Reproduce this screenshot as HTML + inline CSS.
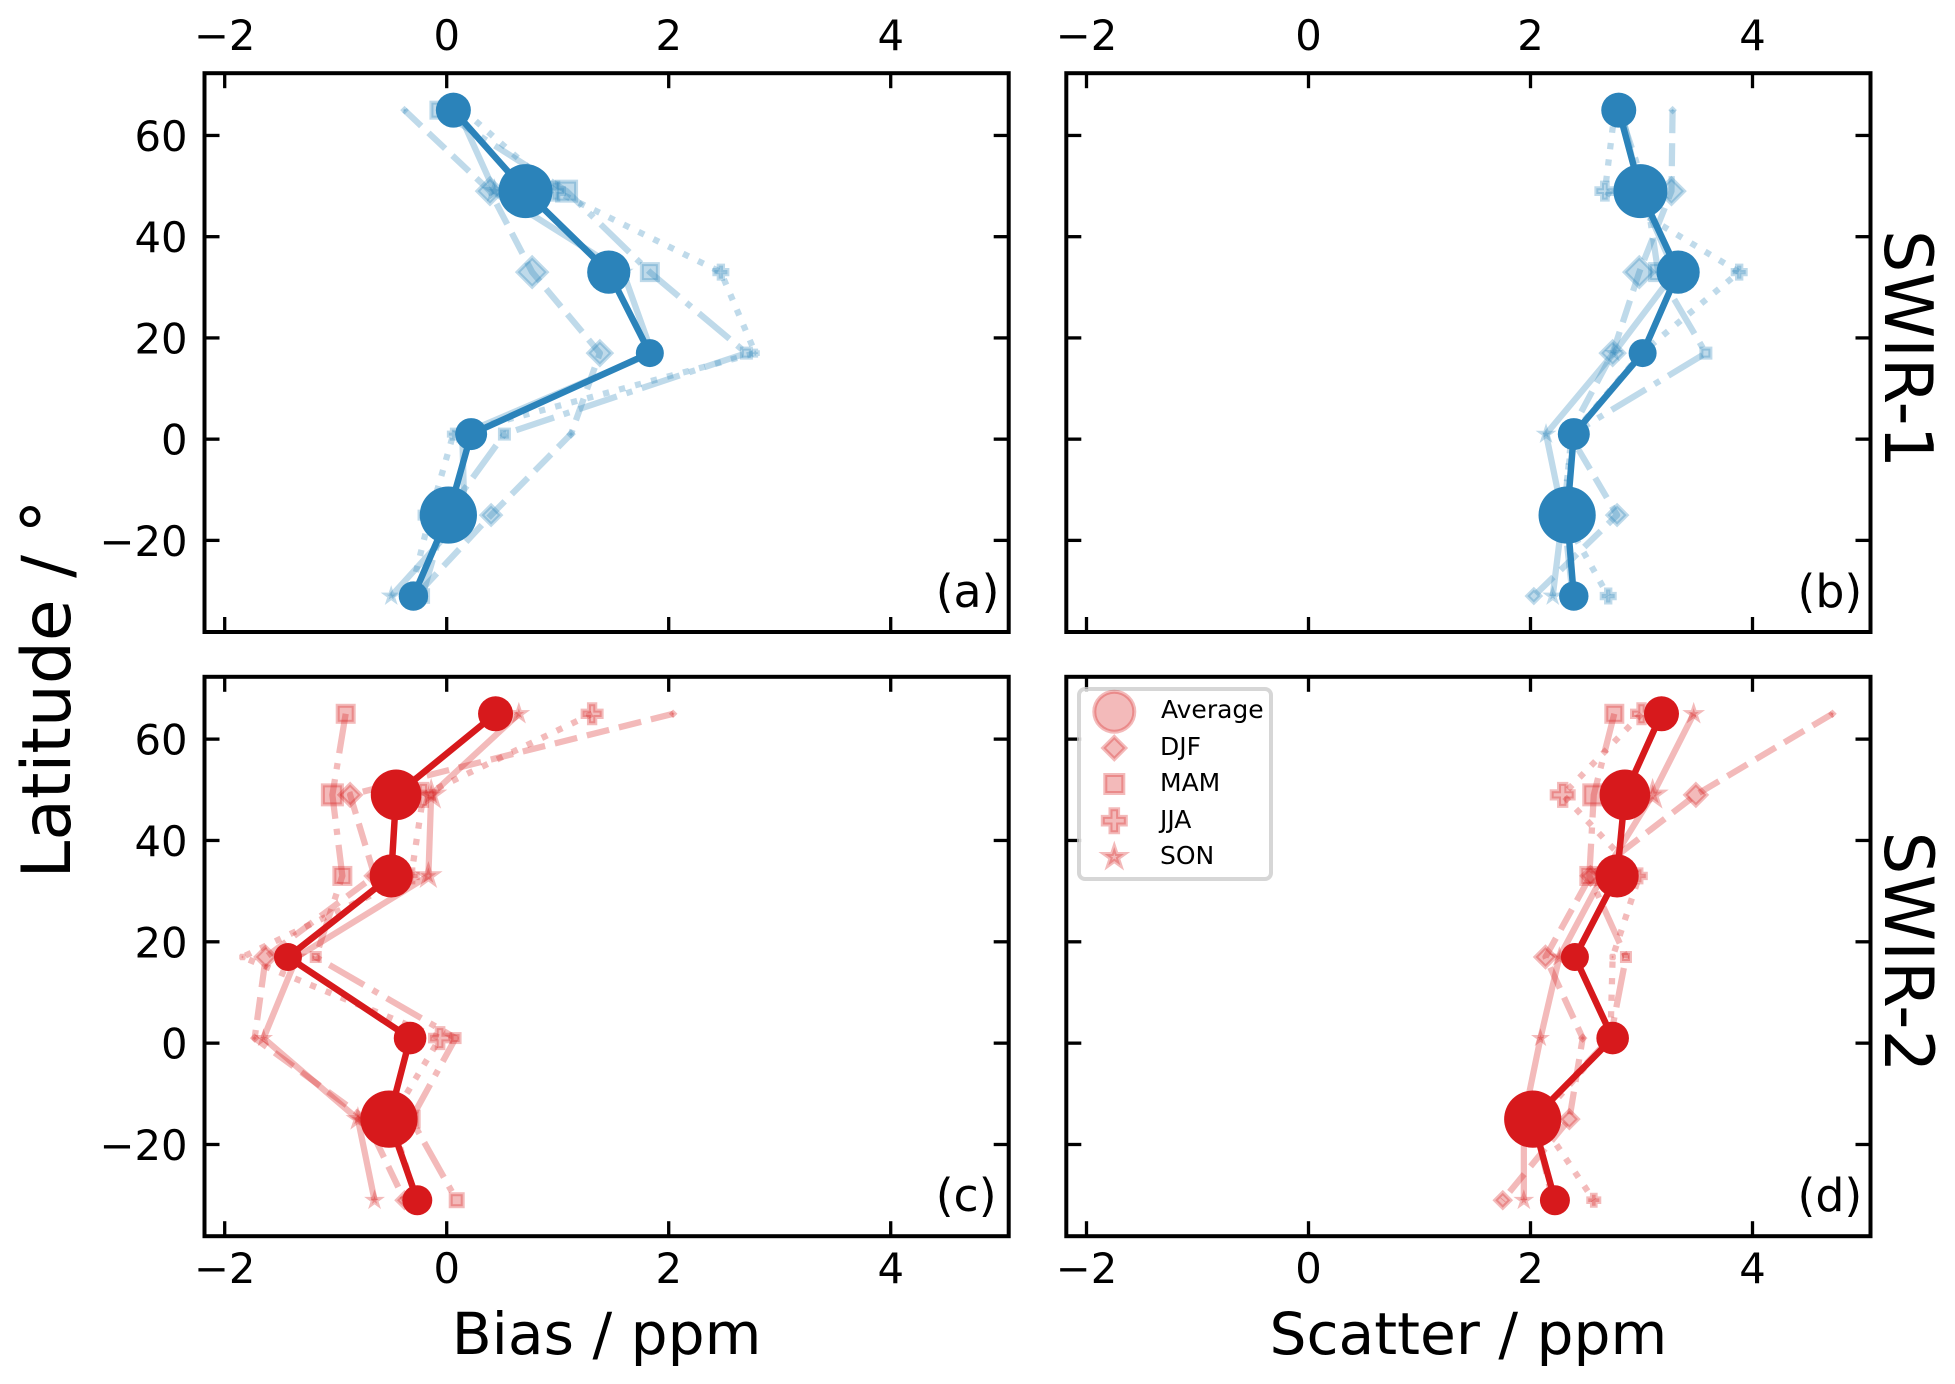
<!DOCTYPE html>
<html lang="en">
<head>
<meta charset="utf-8">
<title>Bias and scatter by latitude</title>
<style>
html,body{margin:0;padding:0;background:#fff;}
svg{display:block;}
text{font-family:"DejaVu Sans",sans-serif;fill:#000;}
</style>
</head>
<body>
<svg id="chart" xmlns="http://www.w3.org/2000/svg" width="1955" height="1384" viewBox="0 0 1955 1384">
  <rect x="0" y="0" width="1955" height="1384" fill="#ffffff"/>
  <g id="panels"></g>

  <text transform="translate(70,689) rotate(-90)" text-anchor="middle" font-size="67.8">Latitude / °</text>
  <text x="606.6" y="1354" text-anchor="middle" font-size="58.3">Bias / ppm</text>
  <text x="1468.4" y="1354" text-anchor="middle" font-size="58.3">Scatter / ppm</text>
  <text transform="translate(1885,349) rotate(90)" text-anchor="middle" font-size="66.7">SWIR-1</text>
  <text transform="translate(1885,952) rotate(90)" text-anchor="middle" font-size="67.5">SWIR-2</text>

  <g>
    <rect x="1079" y="689" width="192" height="190" rx="6" ry="6" fill="#ffffff" fill-opacity="0.8" stroke="#cccccc" stroke-opacity="0.8" stroke-width="4"/>
    <g>
      <circle cx="1114.3" cy="711.7" r="20" fill="#d7191c" fill-opacity="0.3" stroke="#d7191c" stroke-opacity="0.3" stroke-width="4"/>
      <text x="1161" y="718" font-size="25">Average</text>
    </g>
    <g>
      <polygon points="1114.3,737 1125.3,748 1114.3,759 1103.3,748" fill="#d7191c" fill-opacity="0.3" stroke="#d7191c" stroke-opacity="0.3" stroke-width="4"/>
      <text x="1160" y="755" font-size="25">DJF</text>
    </g>
    <g>
      <rect x="1105.3" y="775" width="18" height="18" fill="#d7191c" fill-opacity="0.3" stroke="#d7191c" stroke-opacity="0.3" stroke-width="4"/>
      <text x="1160" y="791" font-size="25">MAM</text>
    </g>
    <g>
      <polygon points="1110.5,809.2 1118.1,809.2 1118.1,816.9 1125.8,816.9 1125.8,824.5 1118.1,824.5 1118.1,832.2 1110.5,832.2 1110.5,824.5 1102.8,824.5 1102.8,816.9 1110.5,816.9" fill="#d7191c" fill-opacity="0.3" stroke="#d7191c" stroke-opacity="0.3" stroke-width="4"/>
      <text x="1160" y="828" font-size="25">JJA</text>
    </g>
    <g>
      <polygon points="1114.3,847 1116.6,854 1124,854 1118,858.3 1120.3,865.3 1114.3,861 1108.3,865.3 1110.6,858.3 1104.6,854 1112,854" fill="#d7191c" fill-opacity="0.3" stroke="#d7191c" stroke-opacity="0.3" stroke-width="4"/>
      <text x="1160" y="864" font-size="25">SON</text>
    </g>
  </g>
</svg>
<script>
// Shared axes
const latitudes = [65, 49, 33, 17, 1, -15, -31];
const xTickValues = [-2, 0, 2, 4];
const yTickValues = [60, 40, 20, 0, -20];

// Panel (a): SWIR-1 bias
const biasSwir1Average = [0.06, 0.71, 1.46, 1.83, 0.22, 0.015, -0.30];
const biasSwir1Djf = [-0.38, 0.39, 0.77, 1.38, 1.12, 0.40, -0.28];
const biasSwir1Mam = [-0.07, 1.08, 1.83, 2.70, 0.52, -0.01, -0.22];
const biasSwir1Jja = [0.15, 0.98, 2.47, 2.78, 0.06, -0.15, -0.33];
const biasSwir1Son = [0.10, 0.43, 1.59, 1.85, 0.14, 0.16, -0.50];

// Panel (b): SWIR-1 scatter
const scatterSwir1Average = [2.795, 2.99, 3.33, 3.01, 2.39, 2.33, 2.39];
const scatterSwir1Djf = [3.28, 3.27, 2.98, 2.74, 2.35, 2.78, 2.03];
const scatterSwir1Mam = [2.80, 3.04, 3.15, 3.58, 2.37, 2.30, 2.38];
const scatterSwir1Jja = [2.76, 2.67, 3.88, 3.00, 2.38, 2.29, 2.70];
const scatterSwir1Son = [2.82, 2.98, 3.30, 2.75, 2.14, 2.29, 2.20];

// Panel (c): SWIR-2 bias
const biasSwir2Average = [0.44, -0.456, -0.50, -1.43, -0.33, -0.52, -0.265];
const biasSwir2Djf = [2.04, -0.87, -0.65, -1.63, -1.73, -0.73, -0.38];
const biasSwir2Mam = [-0.91, -1.03, -0.94, -1.18, 0.08, -0.32, 0.09];
const biasSwir2Jja = [1.31, -0.21, -0.32, -1.84, -0.06, -0.50, -0.27];
const biasSwir2Son = [0.65, -0.14, -0.165, -1.35, -1.65, -0.80, -0.65];

// Panel (d): SWIR-2 scatter
const scatterSwir2Average = [3.18, 2.85, 2.78, 2.40, 2.74, 2.02, 2.22];
const scatterSwir2Djf = [4.72, 3.49, 2.54, 2.135, 2.47, 2.35, 1.75];
const scatterSwir2Mam = [2.755, 2.57, 2.53, 2.86, 2.72, 2.03, 2.20];
const scatterSwir2Jja = [3.00, 2.29, 2.98, 2.74, 2.72, 2.08, 2.57];
const scatterSwir2Son = [3.47, 3.10, 2.65, 2.26, 2.09, 1.94, 1.94];

// Sampling weight per latitude band (sets marker area in the original figure)
const swir1WeightAverage = [17.5, 27, 21.6, 14, 16, 28.6, 14.7];
const swir1WeightDjf = [3, 14, 16, 13, 3.5, 11, 8];
const swir1WeightMam = [9, 11, 9.5, 6, 6, 9, 7.3];
const swir1WeightJja = [5, 10, 8, 4, 6, 12, 8];
const swir1WeightSon = [5, 8, 6, 5, 6, 6, 6];
const swir2WeightAverage = [17.5, 25.3, 21.6, 14, 16.3, 28.6, 15];
const swir2WeightDjf = [3, 12, 10, 11.4, 3.5, 10, 9];
const swir2WeightMam = [9.5, 11, 9.5, 5.5, 5.5, 9, 7.5];
const swir2WeightJja = [11, 12.5, 8, 2.5, 11.5, 8, 7];
const swir2WeightSon = [7, 12, 10, 6, 5, 8, 6];

const SVGNS = 'http://www.w3.org/2000/svg';
const xMin = -2.182, xMax = 5.063, yMin = -38.1, yMax = 72.3;
const BLUE = '#2b83ba', RED = '#d7191c';

function mk(tag, attrs, parent) {
  const node = document.createElementNS(SVGNS, tag);
  for (const k in attrs) node.setAttribute(k, attrs[k]);
  parent.appendChild(node);
  return node;
}

function xAxis(box) {
  return function (v) { return box.x + (v - xMin) / (xMax - xMin) * box.w; };
}
function yAxis(box) {
  return function (v) { return box.y + (yMax - v) / (yMax - yMin) * box.h; };
}
function fmt(v) {
  return v < 0 ? '\u2212' + Math.abs(v) : String(v);
}
function averageRadius(weight) { return weight; }
function seasonRadius(weight) { return Math.max(1.2, weight - 1.5); }

function markerNode(shape, cx, cy, r, attrs, parent) {
  if (shape === 'square') {
    return mk('rect', Object.assign({ x: cx - r, y: cy - r, width: 2 * r, height: 2 * r }, attrs), parent);
  }
  let pts = [];
  if (shape === 'diamond') {
    pts = [[0, -r], [r, 0], [0, r], [-r, 0]];
  } else if (shape === 'plus') {
    const a = r / 3;
    pts = [[-a, -r], [a, -r], [a, -a], [r, -a], [r, a], [a, a], [a, r], [-a, r], [-a, a], [-r, a], [-r, -a], [-a, -a]];
  } else {
    for (let i = 0; i < 10; i++) {
      const rad = i % 2 ? r * 0.382 : r;
      const ang = -Math.PI / 2 + i * Math.PI / 5;
      pts.push([rad * Math.cos(ang), rad * Math.sin(ang)]);
    }
  }
  const text = pts.map(function (p) { return (cx + p[0]).toFixed(2) + ',' + (cy + p[1]).toFixed(2); }).join(' ');
  return mk('polygon', Object.assign({ points: text }, attrs), parent);
}

function drawSeason(parent, panelId, season, values, weights, shape, dash, color, px, py) {
  const group = mk('g', {}, parent);
  
  
  const pts = values.map(function (v, i) { return px(v).toFixed(2) + ',' + py(latitudes[i]).toFixed(2); }).join(' ');
  const attrs = { points: pts, fill: 'none', stroke: color, 'stroke-opacity': 0.3, 'stroke-width': 6.25, 'stroke-linejoin': 'round' };
  if (dash) attrs['stroke-dasharray'] = dash;
  const line = mk('polyline', attrs, group);
  
  
  values.forEach(function (v, i) {
    const style = { fill: color, 'fill-opacity': 0.3, stroke: color, 'stroke-opacity': 0.3, 'stroke-width': 4 };
    const node = markerNode(shape, px(v), py(latitudes[i]), seasonRadius(weights[i]), style, group);
    
    
  });
}

function drawAverage(parent, panelId, values, weights, color, px, py) {
  const group = mk('g', {}, parent);
  
  
  const pts = values.map(function (v, i) { return px(v).toFixed(2) + ',' + py(latitudes[i]).toFixed(2); }).join(' ');
  const line = mk('polyline', { points: pts, fill: 'none', stroke: color, 'stroke-width': 6.5, 'stroke-linejoin': 'round' }, group);
  
  
  values.forEach(function (v, i) {
    const node = mk('circle', { cx: px(v), cy: py(latitudes[i]), r: averageRadius(weights[i]), fill: color }, group);
    
    
  });
}

function drawAxes(parent, panelId, box, px, py, showYLabels, xLabelsOnTop) {
  const tickLen = 15;
  xTickValues.forEach(function (t) {
    const x = px(t);
    const top = mk('line', { x1: x, x2: x, y1: box.y, y2: box.y + tickLen, stroke: '#000', 'stroke-width': 3.3 }, parent);
    
    
    const bottom = mk('line', { x1: x, x2: x, y1: box.y + box.h - tickLen, y2: box.y + box.h, stroke: '#000', 'stroke-width': 3.3 }, parent);
    
    
    const label = mk('text', { x: x, y: xLabelsOnTop ? box.y - 23 : box.y + box.h + 47, 'text-anchor': 'middle', 'font-size': 41.7 }, parent);
    label.textContent = fmt(t);
    
    
  });
  yTickValues.forEach(function (t) {
    const y = py(t);
    const left = mk('line', { x1: box.x, x2: box.x + tickLen, y1: y, y2: y, stroke: '#000', 'stroke-width': 3.3 }, parent);
    
    
    const right = mk('line', { x1: box.x + box.w - tickLen, x2: box.x + box.w, y1: y, y2: y, stroke: '#000', 'stroke-width': 3.3 }, parent);
    
    
    if (showYLabels) {
      const label = mk('text', { x: box.x - 17, y: y + 15.5, 'text-anchor': 'end', 'font-size': 41.7 }, parent);
      label.textContent = fmt(t);
      
      
    }
  });
}

function drawPanel(panelId, tag, box, series, weights, color, showYLabels, xLabelsOnTop) {
  const root = document.getElementById('panels');
  const group = mk('g', {}, root);
  
  
  const px = xAxis(box);
  const py = yAxis(box);
  drawSeason(group, panelId, 'djf', series.djf, weights.djf, 'diamond', '23,10', color, px, py);
  drawSeason(group, panelId, 'mam', series.mam, weights.mam, 'square', '40,10,6.25,10', color, px, py);
  drawSeason(group, panelId, 'jja', series.jja, weights.jja, 'plus', '6.25,10.3', color, px, py);
  drawSeason(group, panelId, 'son', series.son, weights.son, 'star', '', color, px, py);
  drawAverage(group, panelId, series.avg, weights.avg, color, px, py);
  drawAxes(group, panelId, box, px, py, showYLabels, xLabelsOnTop);
  const frame = mk('rect', { x: box.x, y: box.y, width: box.w, height: box.h, fill: 'none', stroke: '#000', 'stroke-width': 4 }, group);
  
  
  const tagText = mk('text', { x: box.x + box.w - 73, y: box.y + box.h - 25, 'font-size': 45.8 }, group);
  tagText.textContent = tag;
  
  
}

const boxA = { x: 204.5, y: 73.2, w: 804.2, h: 558.8 };
const boxB = { x: 1066.3, y: 73.2, w: 804.2, h: 558.8 };
const boxC = { x: 204.5, y: 676.8, w: 804.2, h: 559.4 };
const boxD = { x: 1066.3, y: 676.8, w: 804.2, h: 559.4 };
const weights1 = { avg: swir1WeightAverage, djf: swir1WeightDjf, mam: swir1WeightMam, jja: swir1WeightJja, son: swir1WeightSon };
const weights2 = { avg: swir2WeightAverage, djf: swir2WeightDjf, mam: swir2WeightMam, jja: swir2WeightJja, son: swir2WeightSon };

drawPanel('panel-a-swir1-bias', '(a)', boxA, { avg: biasSwir1Average, djf: biasSwir1Djf, mam: biasSwir1Mam, jja: biasSwir1Jja, son: biasSwir1Son }, weights1, BLUE, true, true);
drawPanel('panel-b-swir1-scatter', '(b)', boxB, { avg: scatterSwir1Average, djf: scatterSwir1Djf, mam: scatterSwir1Mam, jja: scatterSwir1Jja, son: scatterSwir1Son }, weights1, BLUE, false, true);
drawPanel('panel-c-swir2-bias', '(c)', boxC, { avg: biasSwir2Average, djf: biasSwir2Djf, mam: biasSwir2Mam, jja: biasSwir2Jja, son: biasSwir2Son }, weights2, RED, true, false);
drawPanel('panel-d-swir2-scatter', '(d)', boxD, { avg: scatterSwir2Average, djf: scatterSwir2Djf, mam: scatterSwir2Mam, jja: scatterSwir2Jja, son: scatterSwir2Son }, weights2, RED, false, false);
</script>
</body>
</html>
